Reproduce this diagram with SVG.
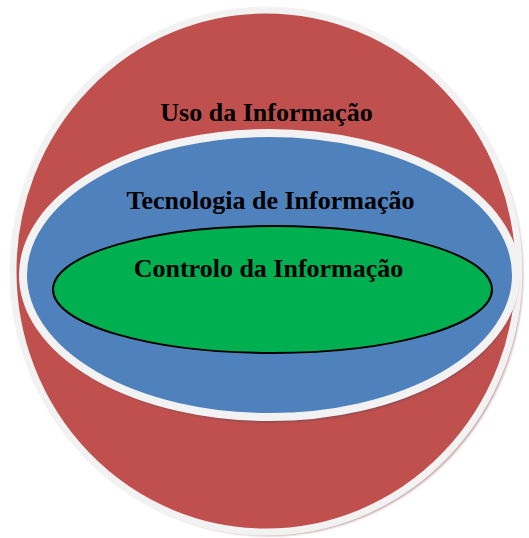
<svg xmlns="http://www.w3.org/2000/svg" width="529" height="538" viewBox="0 0 529 538">
  <style>
    .ring { stroke: #f2f2f2; }
    .label { font-family: "Liberation Serif", "Times New Roman", serif; font-weight: bold; font-size: 26px; fill: #000; text-anchor: middle; }
  </style>
  <defs>
    <filter id="soft" x="-10%" y="-10%" width="120%" height="120%">
      <feGaussianBlur stdDeviation="1"/>
    </filter>
  </defs>
  <rect width="529" height="538" fill="#ffffff"/>
  <g id="uso">
    <ellipse cx="269" cy="274" rx="254" ry="262" fill="#b48c8e" opacity="0.8" filter="url(#soft)"/>
    <ellipse class="ring" cx="266" cy="271" rx="253" ry="261" fill="#c0504d" stroke-width="7"/>
    <text class="label" x="266.5" y="121">Uso da Informação</text>
  </g>
  <g id="tecnologia">
    <ellipse cx="271" cy="279" rx="247" ry="143" fill="#73475a" opacity="0.85" filter="url(#soft)"/>
    <ellipse class="ring" cx="269.5" cy="275" rx="246.5" ry="142" fill="#4f81bd" stroke-width="8"/>
    <text class="label" x="270.5" y="209">Tecnologia de Informação</text>
  </g>
  <g id="controlo">
    <ellipse cx="272.5" cy="289.5" rx="219.5" ry="63.5" fill="#00b050" stroke="#000000" stroke-width="2"/>
    <text class="label" x="268.5" y="277">Controlo da Informação</text>
  </g>
  <g id="connectors"/>
</svg>
